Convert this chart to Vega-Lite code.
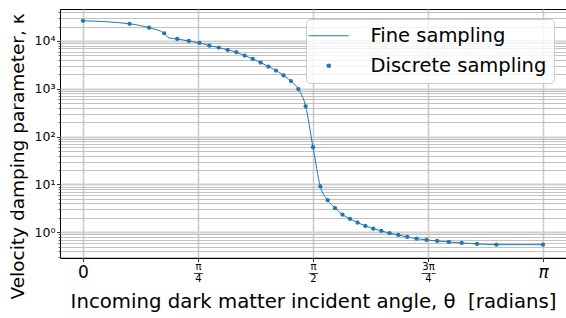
{
  "$schema": "https://vega.github.io/schema/vega-lite/v6.json",
  "width": 506,
  "height": 249,
  "autosize": "none",
  "padding": {"left": 60, "top": 9, "right": 0, "bottom": 60},
  "background": "white",
  "config": {
    "font": "DejaVu Sans",
    "view": {"stroke": "black", "strokeWidth": 1},
    "axis": {"labelColor": "black", "titleColor": "black", "titleFontWeight": "normal", "tickColor": "black", "domainColor": "black"}
  },
  "datasets": {
    "fine": [
      {"theta": 0, "kappa": 26400},
      {"theta": 0.31756, "kappa": 22900},
      {"theta": 0.45103, "kappa": 18900},
      {"theta": 0.55481, "kappa": 14500},
      {"theta": 0.5873, "kappa": 11540},
      {"theta": 0.6435, "kappa": 11000},
      {"theta": 0.72273, "kappa": 10000},
      {"theta": 0.7954, "kappa": 9090},
      {"theta": 0.86331, "kappa": 7980},
      {"theta": 0.9273, "kappa": 7260},
      {"theta": 0.98843, "kappa": 6500},
      {"theta": 1.0472, "kappa": 5820},
      {"theta": 1.10403, "kappa": 4950},
      {"theta": 1.15928, "kappa": 4220},
      {"theta": 1.21323, "kappa": 3540},
      {"theta": 1.2661, "kappa": 2920},
      {"theta": 1.31812, "kappa": 2410},
      {"theta": 1.36944, "kappa": 1900},
      {"theta": 1.42022, "kappa": 1450},
      {"theta": 1.47063, "kappa": 990},
      {"theta": 1.52078, "kappa": 430},
      {"theta": 1.5708, "kappa": 60},
      {"theta": 1.62082, "kappa": 9.1},
      {"theta": 1.67096, "kappa": 4.7},
      {"theta": 1.72137, "kappa": 3.2},
      {"theta": 1.77215, "kappa": 2.34},
      {"theta": 1.82348, "kappa": 1.9},
      {"theta": 1.87549, "kappa": 1.59},
      {"theta": 1.92836, "kappa": 1.36},
      {"theta": 1.98231, "kappa": 1.19},
      {"theta": 2.03756, "kappa": 1.07},
      {"theta": 2.0944, "kappa": 0.957},
      {"theta": 2.15316, "kappa": 0.879},
      {"theta": 2.2143, "kappa": 0.798},
      {"theta": 2.27828, "kappa": 0.736},
      {"theta": 2.34619, "kappa": 0.692},
      {"theta": 2.41886, "kappa": 0.659},
      {"theta": 2.49809, "kappa": 0.628},
      {"theta": 2.58678, "kappa": 0.6},
      {"theta": 2.69057, "kappa": 0.571},
      {"theta": 2.82403, "kappa": 0.552},
      {"theta": 3.14159, "kappa": 0.55}
    ],
    "discrete": [
      {"theta": 0, "kappa": 26400},
      {"theta": 0.31756, "kappa": 22900},
      {"theta": 0.45103, "kappa": 18900},
      {"theta": 0.55481, "kappa": 14500},
      {"theta": 0.6435, "kappa": 11000},
      {"theta": 0.72273, "kappa": 10000},
      {"theta": 0.7954, "kappa": 9090},
      {"theta": 0.86331, "kappa": 7980},
      {"theta": 0.9273, "kappa": 7260},
      {"theta": 0.98843, "kappa": 6500},
      {"theta": 1.0472, "kappa": 5820},
      {"theta": 1.10403, "kappa": 4950},
      {"theta": 1.15928, "kappa": 4220},
      {"theta": 1.21323, "kappa": 3540},
      {"theta": 1.2661, "kappa": 2920},
      {"theta": 1.31812, "kappa": 2410},
      {"theta": 1.36944, "kappa": 1900},
      {"theta": 1.42022, "kappa": 1450},
      {"theta": 1.47063, "kappa": 990},
      {"theta": 1.52078, "kappa": 430},
      {"theta": 1.5708, "kappa": 60},
      {"theta": 1.62082, "kappa": 9.1},
      {"theta": 1.67096, "kappa": 4.7},
      {"theta": 1.72137, "kappa": 3.2},
      {"theta": 1.77215, "kappa": 2.34},
      {"theta": 1.82348, "kappa": 1.9},
      {"theta": 1.87549, "kappa": 1.59},
      {"theta": 1.92836, "kappa": 1.36},
      {"theta": 1.98231, "kappa": 1.19},
      {"theta": 2.03756, "kappa": 1.07},
      {"theta": 2.0944, "kappa": 0.957},
      {"theta": 2.15316, "kappa": 0.879},
      {"theta": 2.2143, "kappa": 0.798},
      {"theta": 2.27828, "kappa": 0.736},
      {"theta": 2.34619, "kappa": 0.692},
      {"theta": 2.41886, "kappa": 0.659},
      {"theta": 2.49809, "kappa": 0.628},
      {"theta": 2.58678, "kappa": 0.6},
      {"theta": 2.69057, "kappa": 0.571},
      {"theta": 2.82403, "kappa": 0.552},
      {"theta": 3.14159, "kappa": 0.55}
    ]
  },
  "layer": [
    {
      "data": {"name": "fine"},
      "mark": {"type": "line", "strokeWidth": 1, "interpolate": "monotone", "clip": true},
      "encoding": {
        "x": {
          "field": "theta", "type": "quantitative",
          "scale": {"domain": [-0.15708, 3.29867], "nice": false, "zero": false},
          "axis": {
            "values": [0, 0.785398, 1.570796, 2.356194, 3.141593],
            "labelExpr": "datum.value < 0.1 ? '0' : datum.value < 1 ? ['π','—','4'] : datum.value < 2 ? ['π','—','2'] : datum.value < 3 ? ['3π','—–','4'] : 'π'",
            "labelFontSize": {"condition": {"test": "datum.value < 0.1 || datum.value > 3", "value": 17}, "value": 10},
            "labelFontStyle": {"condition": {"test": "datum.value > 3", "value": "italic"}, "value": "normal"},
            "labelPadding": {"condition": {"test": "datum.value < 0.1 || datum.value > 3", "value": 16}, "value": 8},
            "labelBaseline": "alphabetic",
            "labelLineHeight": 6.2,
            "labelOverlap": false,
            "labelFlush": false,
            "tickSize": 3.5,
            "tickWidth": 0.8,
            "domain": false,
            "grid": true,
            "gridColor": "#cccccc",
            "gridWidth": 1.6,
            "title": "Incoming dark matter incident angle, θ\u00a0 [radians]",
            "titleFontSize": 19.7,
            "titleBaseline": "alphabetic",
            "titleAlign": "center",
            "titleX": 253,
            "titleY": 49
          }
        },
        "y": {
          "field": "kappa", "type": "quantitative",
          "scale": {"type": "log", "domain": [0.29, 46600], "nice": false},
          "axis": {
            "values": [0.3,0.4,0.5,0.6,0.7,0.8,0.9,1,2,3,4,5,6,7,8,9,10,20,30,40,50,60,70,80,90,100,200,300,400,500,600,700,800,900,1000,2000,3000,4000,5000,6000,7000,8000,9000,10000,20000,30000,40000],
            "labelExpr": "abs(log(datum.value)/LN10 - round(log(datum.value)/LN10)) < 0.000001 ? '10' + ['⁰','¹','²','³','⁴'][round(log(datum.value)/LN10)] : ''",
            "labelFontSize": 12.5,
            "labelPadding": 1.5,
            "labelOverlap": false,
            "labelFlush": false,
            "tickSize": {"condition": {"test": "abs(log(datum.value)/LN10 - round(log(datum.value)/LN10)) < 0.000001", "value": 3.5}, "value": 2},
            "tickWidth": {"condition": {"test": "abs(log(datum.value)/LN10 - round(log(datum.value)/LN10)) < 0.000001", "value": 0.8}, "value": 0.6},
            "domain": false,
            "grid": true,
            "gridColor": {"condition": {"test": "abs(log(datum.value)/LN10 - round(log(datum.value)/LN10)) < 0.000001", "value": "#d0d0d0"}, "value": "#b3b3b3"},
            "gridWidth": {"condition": {"test": "abs(log(datum.value)/LN10 - round(log(datum.value)/LN10)) < 0.000001", "value": 1.8}, "value": 0.8},
            "title": "Velocity damping parameter, κ",
            "titleFontSize": 18.5,
            "titleAngle": 270,
            "titleBaseline": "alphabetic",
            "titleAlign": "center",
            "titleX": -37,
            "titleY": 147
          }
        },
        "color": {
          "datum": "Fine sampling",
          "type": "nominal",
          "scale": {"domain": ["Fine sampling", "Discrete sampling"], "range": ["#1f77b4", "#1f77b4"]},
          "legend": {
            "title": null,
            "orient": "none",
            "legendX": 246,
            "legendY": 10,
            "labelFont": "DejaVu Sans",
            "labelFontSize": 19.5,
            "labelColor": "black",
            "labelLimit": 400,
            "symbolSize": 1600,
            "symbolOffset": 6,
            "labelOffset": 32,
            "padding": 7,
            "rowPadding": 9,
            "fillColor": "rgba(255,255,255,0.8)",
            "strokeColor": "#cccccc",
            "cornerRadius": 4,
            "encode": {
              "symbols": {
                "update": {
                  "shape": {"signal": "datum.value === 'Fine sampling' ? 'stroke' : 'circle'"},
                  "size": {"signal": "datum.value === 'Fine sampling' ? 1600 : 22"},
                  "fill": {"signal": "datum.value === 'Fine sampling' ? 'transparent' : '#1f77b4'"},
                  "stroke": {"value": "#1f77b4"},
                  "strokeWidth": {"signal": "datum.value === 'Fine sampling' ? 1.2 : 0"},
                  "opacity": {"value": 1}
                }
              }
            }
          }
        }
      }
    },
    {
      "data": {"name": "discrete"},
      "mark": {"type": "circle", "size": 18, "opacity": 1},
      "encoding": {
        "x": {"field": "theta", "type": "quantitative"},
        "y": {"field": "kappa", "type": "quantitative"},
        "color": {"datum": "Discrete sampling", "type": "nominal"}
      }
    }
  ]
}
